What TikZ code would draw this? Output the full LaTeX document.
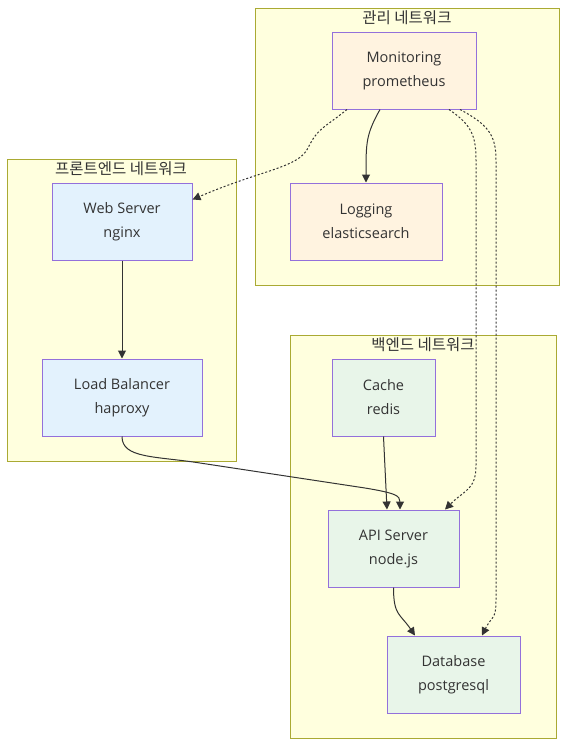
\documentclass[tikz,border=0pt]{standalone}
\usepackage{fontspec}
\setmainfont{Open Sans}
\newfontfamily\kr{Noto Sans CJK KR}
\usetikzlibrary{arrows.meta}
\definecolor{grpfill}{HTML}{FFFFDE}
\definecolor{grpline}{HTML}{AAAA33}
\definecolor{nodeline}{HTML}{9370DB}
\definecolor{mgmtfill}{HTML}{FFF3E0}
\definecolor{frontfill}{HTML}{E3F2FD}
\definecolor{backfill}{HTML}{E8F5E9}
\definecolor{txt}{HTML}{333333}
\begin{document}
\begin{tikzpicture}[x=1pt,y=-1pt,
  grp/.style={draw=grpline,fill=grpfill,line width=1pt},
  grptitle/.style={text=txt,font=\kr\fontsize{15.5}{17}\selectfont,inner sep=0pt},
  box/.style={draw=nodeline,line width=1pt,text=txt,align=center,
    font=\fontsize{14.5}{24}\selectfont,inner sep=0pt},
  edge/.style={draw=txt,line width=1pt,-{Triangle[length=8pt,width=8pt]}},
  dot/.style={edge,dash pattern=on 2pt off 2pt}]
\useasboundingbox (0,0) rectangle (575,756);
% groups
\draw[grp] (255,8) rectangle (559,285);
\node[grptitle] (tmgmt) at (407,18) {관리 네트워크};
\draw[grp] (7,159) rectangle (236,461);
\node[grptitle] (tfront) at (121,169) {프론트엔드 네트워크};
\draw[grp] (290,335) rectangle (556,738);
\node[grptitle] (tback) at (423,345) {백엔드 네트워크};
% nodes
\node[box,fill=mgmtfill,minimum width=144pt,minimum height=77pt] (mon) at (404,70.5) {Monitoring\\prometheus};
\node[box,fill=mgmtfill,minimum width=152pt,minimum height=77pt] (log) at (366,221.5) {Logging\\elasticsearch};
\node[box,fill=frontfill,minimum width=140pt,minimum height=77pt] (web) at (122,221.5) {Web Server\\nginx};
\node[box,fill=frontfill,minimum width=160pt,minimum height=77pt] (lb) at (122,397.5) {Load Balancer\\haproxy};
\node[box,fill=backfill,minimum width=103pt,minimum height=77pt] (cache) at (383.5,397.5) {Cache\\redis};
\node[box,fill=backfill,minimum width=131pt,minimum height=77pt] (api) at (393.5,548.5) {API Server\\node.js};
\node[box,fill=backfill,minimum width=133pt,minimum height=77pt] (db) at (453.5,674.5) {Database\\postgresql};
% edges
\draw[edge] ([xshift=-24pt]mon.south) .. controls +(-14,25) and +(0,-40) .. (log.north);
\draw[dot] ([xshift=-57pt]mon.south) .. controls +(-25,20) and +(10,-20) .. (308,148)
  .. controls +(-10,20) and +(70,-30) .. ([yshift=22pt]web.east);
\draw[dot] ([xshift=45pt]mon.south) .. controls +(22,15) and +(0,-25) .. (476,160) -- (476,465)
  .. controls +(0,25) and +(20,-20) .. ([xshift=51.5pt]api.north);
\draw[dot] ([xshift=56pt]mon.south) .. controls +(28,15) and +(0,-25) .. (496,160) -- (496,600)
  .. controls +(0,20) and +(10,-20) .. ([xshift=28.5pt]db.north);
\draw[edge] (web.south) -- (lb.north);
\draw[edge] (lb.south) .. controls +(0,22) and +(-45,-7) .. (200,463) -- (365,488)
  .. controls +(30,5) and +(0,-14) .. ([xshift=6.5pt]api.north);
\draw[edge] (cache.south) -- ([xshift=-6.5pt]api.north);
\draw[edge] (api.south) .. controls +(0,28) and +(-15,-22) .. ([xshift=-38.5pt]db.north);
\end{tikzpicture}
\end{document}
